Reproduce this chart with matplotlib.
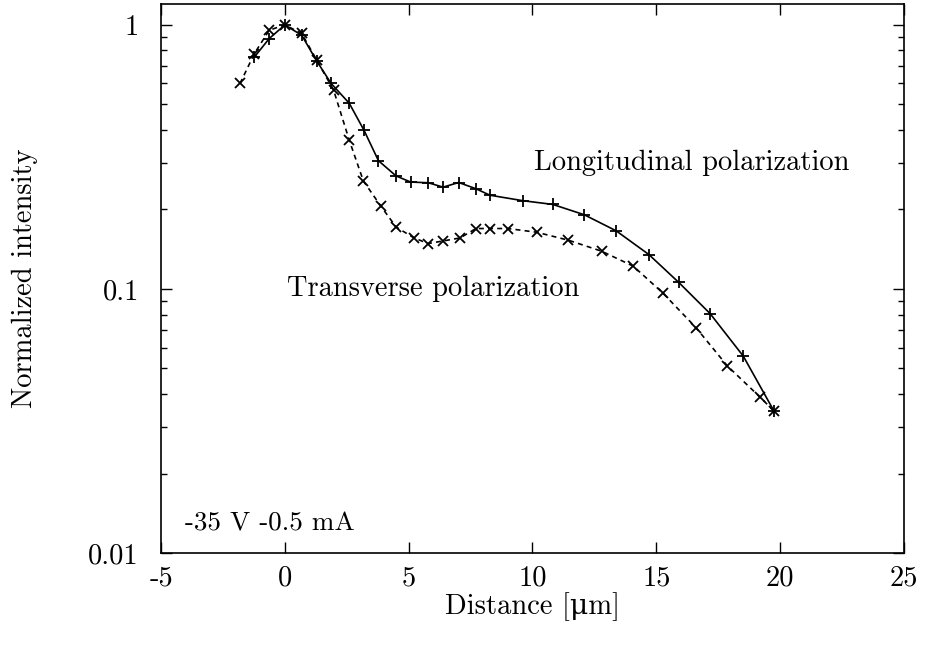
import matplotlib
matplotlib.use("Agg")
import matplotlib.pyplot as plt
from matplotlib.ticker import FixedLocator, LogLocator, NullFormatter, NullLocator

plt.rcParams['font.family'] = ['cmr10', 'DejaVu Serif']
plt.rcParams['mathtext.fontset'] = 'cm'
plt.rcParams['axes.unicode_minus'] = False

# Longitudinal polarization (solid, '+')
long_x = [-1.23, -0.63, 0.0, 0.68, 1.29, 1.87, 2.60, 3.19, 3.78, 4.49, 5.08, 5.79,
          6.39, 7.02, 7.70, 8.28, 9.60, 10.82, 12.09, 13.38, 14.70, 15.90, 17.17,
          18.51, 19.75]
long_y = [0.756, 0.888, 1.0, 0.914, 0.729, 0.600, 0.505, 0.400, 0.306, 0.268, 0.254,
          0.2525, 0.243, 0.253, 0.240, 0.2265, 0.216, 0.209, 0.191, 0.166, 0.135,
          0.106, 0.0807, 0.0557, 0.0345]

# Transverse polarization (dashed, 'x')
trans_x = [-1.81, -1.23, -0.63, 0.0, 0.68, 1.29, 1.97, 2.60, 3.17, 3.88, 4.49, 5.22,
           5.79, 6.39, 7.07, 7.72, 8.28, 9.00, 10.17, 11.45, 12.79, 14.07, 15.26,
           16.60, 17.87, 19.18, 19.75]
trans_y = [0.600, 0.779, 0.955, 1.0, 0.928, 0.735, 0.566, 0.366, 0.2565, 0.2057,
           0.1717, 0.156, 0.1486, 0.152, 0.156, 0.1694, 0.1694, 0.1694, 0.164, 0.153,
           0.139, 0.122, 0.0966, 0.0714, 0.0511, 0.039, 0.0345]

x_ticks = [-5, 0, 5, 10, 15, 20, 25]
x_ticklabels = ['-5', '0', '5', '10', '15', '20', '25']
y_ticks = [0.01, 0.1, 1]
y_ticklabels = ['0.01', '0.1', '1']

FS = 20.5

fig = plt.figure(figsize=(9.26, 6.45), dpi=100)
ax = fig.add_axes([0.1739, 0.1426, 0.8023, 0.8512])

ax.plot(long_x, long_y, '-', color='black', lw=1.2, marker='+', ms=9, mew=1.3)
ax.plot(trans_x, trans_y, '--', color='black', lw=1.2, marker='x', ms=7.5, mew=1.3,
        dashes=(3, 2.5))

ax.set_yscale('log')
ax.set_xlim(-5, 25)
ax.set_ylim(0.01, 1.2)

ax.xaxis.set_major_locator(FixedLocator(x_ticks))
ax.set_xticklabels(x_ticklabels)
ax.xaxis.set_minor_locator(NullLocator())
ax.yaxis.set_major_locator(FixedLocator(y_ticks))
ax.set_yticklabels(y_ticklabels)
ax.yaxis.set_minor_locator(LogLocator(base=10, subs=range(2, 10)))
ax.yaxis.set_minor_formatter(NullFormatter())

ax.tick_params(which='both', direction='in', top=True, right=True, labelsize=FS,
               width=1.0)
ax.tick_params(which='major', length=8)
ax.tick_params(axis='y', which='major', pad=16)
ax.tick_params(axis='x', which='major', pad=9)
ax.tick_params(which='minor', length=4)
for s in ax.spines.values():
    s.set_linewidth(1.2)

ax.set_xlabel('Distance [μm]', fontsize=FS, labelpad=0)
ax.set_ylabel('Normalized intensity', fontsize=FS, labelpad=36)

ax.text(10.06, 0.30, 'Longitudinal polarization', fontsize=FS, ha='left', va='center')
ax.text(0.08, 0.1, 'Transverse polarization', fontsize=FS, ha='left', va='center')
ax.text(-4.03, 0.0129, '-35 V -0.5 mA', fontsize=19.5, ha='left', va='center')

fig.savefig('out.png', dpi=100)
